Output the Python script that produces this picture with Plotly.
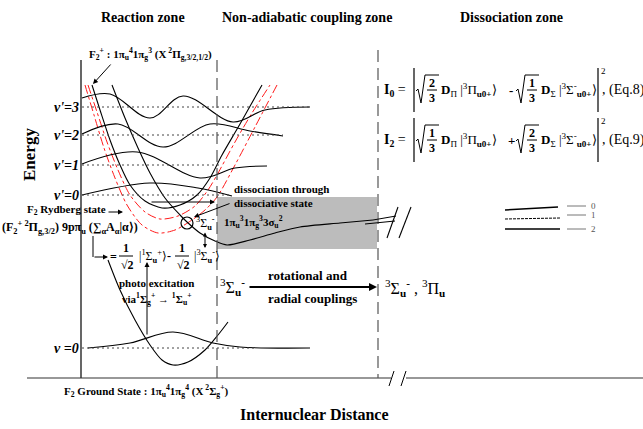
import plotly.graph_objects as go

W, H = 643, 429
SERIF = "Liberation Serif, Times New Roman, serif"

# ---------------- schematic data (R: internuclear distance, E: energy; drawing units) --------------
LEVEL_LABELS = ["v'=3", "v'=2", "v'=1", "v'=0", "v =0"]
LEVEL_E = [107, 135, 165, 195, 348]
LEVEL_R_END = [310, 283, 222, 232, 255]

# vibrational wavefunctions
WF3_R = [82, 110, 150, 183, 233, 265, 310]
WF3_E = [98, 94, 118, 96, 122, 110, 107]
WF2_R = [82, 118, 163, 210, 250, 283]
WF2_E = [134, 124, 147, 124, 131, 136]
WF1_R = [82, 137, 200, 235, 267]
WF1_E = [164, 152, 178, 168, 166]
WF0_R = [82, 150, 198, 232]
WF0_E = [195, 183, 188, 196]
WFG_R = [88, 130, 173, 213, 240, 310]
WFG_E = [348, 343, 332, 343, 347, 348]

# potential curves
ION_R = [92, 100, 110, 120, 130, 145, 162, 180, 197, 210, 222, 240, 262]
ION_E = [85, 110, 140, 165, 185, 201, 208, 205, 195, 178, 155, 124, 85]
RYD1_R = [88, 97, 107, 118, 130, 145, 160, 178, 195, 208, 217, 235, 252, 270]
RYD1_E = [85, 112, 142, 170, 195, 212, 219, 216, 206, 190, 175, 142, 113, 85]
RYD2_R = [85, 94, 104, 115, 127, 142, 158, 175, 192, 205, 217, 235, 255, 277]
RYD2_E = [85, 115, 148, 178, 205, 225, 233, 230, 220, 210, 197, 165, 127, 85]
GND_R = [108, 120, 135, 150, 162, 173, 188, 205, 218, 228]
GND_E = [260, 290, 320, 345, 360, 365, 362, 350, 335, 322]
DISS_R = [112, 125, 138, 150, 165, 180, 187, 200, 215, 227, 250, 275, 300, 340, 373]
DISS_E = [85, 118, 148, 173, 198, 215, 222, 233, 241, 245, 240, 233, 227, 223, 220]

LEG_LABELS = ["0", "1", "2"]

fig = go.Figure()


def curve(r, e, color="black", width=1.1, dash="solid", shape="spline", smooth=0.8):
    fig.add_trace(go.Scatter(x=r, y=e, mode="lines", hoverinfo="skip",
                             line=dict(color=color, width=width, dash=dash, shape=shape,
                                       smoothing=smooth)))


def line(x0, y0, x1, y1, color="black", width=1, dash="solid", layer="above"):
    fig.add_shape(type="line", x0=x0, y0=y0, x1=x1, y1=y1, layer=layer,
                  line=dict(color=color, width=width, dash=dash))


def txt(x, y, s, size=11, xanchor="center", color="black", angle=0):
    fig.add_annotation(x=x, y=y, text=s, showarrow=False, xanchor=xanchor, yanchor="middle",
                       textangle=angle, font=dict(family=SERIF, size=size, color=color))


def arrow(x0, y0, x1, y1, width=1, head=2, side="end", size=1.0):
    fig.add_annotation(x=x1, y=y1, ax=x0, ay=y0, axref="x", ayref="y", xref="x", yref="y",
                       text="", showarrow=True, arrowhead=head, arrowsize=size,
                       arrowwidth=width, arrowcolor="black", arrowside=side, startarrowhead=head,
                       startarrowsize=size)


def sqrt_frac(x, yc, num, den, size=12):
    path = (f"M {x},{yc+1} L {x+2},{yc-1} L {x+5},{yc+13} L {x+9},{yc-15} "
            f"L {x+23},{yc-15}")
    fig.add_shape(type="path", path=path, line=dict(color="black", width=1))
    line(x + 11, yc, x + 21, yc, width=1)
    txt(x + 16, yc - 7, f"<b>{num}</b>", size=size)
    txt(x + 16, yc + 8, f"<b>{den}</b>", size=size)


# gray dissociative region
fig.add_shape(type="rect", x0=217, x1=377, y0=197, y1=249, fillcolor="#bcbcbc",
              line=dict(width=0), layer="below")

# axes
line(81, 60, 81, 378, width=1.2)
line(27, 378, 391, 378, color="#333", width=1.2)
line(406, 378, 643, 378, color="#333", width=1.2)
line(389, 386, 394, 371, width=1)
line(401, 386, 406, 371, width=1)

# zone separators
line(217, 60, 217, 378, color="#555", width=1.2, dash="12px,6px")
line(378, 50, 378, 378, color="#555", width=1.2, dash="12px,6px")

# dotted vibrational levels
for e, rend in zip(LEVEL_E, LEVEL_R_END):
    line(82, e, rend, e, color="#444", width=1, dash="2px,3px")

# potentials
curve(RYD1_R, RYD1_E, color="#ff1a1a", width=1, dash="dashdot")
curve(RYD2_R, RYD2_E, color="#ff1a1a", width=1, dash="dashdot")
curve(ION_R, ION_E)
curve(GND_R, GND_E)
curve(DISS_R, DISS_E)

# wavefunctions
for r, e in [(WF3_R, WF3_E), (WF2_R, WF2_E), (WF1_R, WF1_E), (WF0_R, WF0_E), (WFG_R, WFG_E)]:
    curve(r, e, smooth=1.0)

# dissociative curve continuation to the break
line(373, 220, 396, 216, width=1)
line(365, 224, 395, 221, width=1)
line(387, 238, 398, 207, width=1.1)
line(399, 238, 411, 207, width=1.1)

# crossing marker
fig.add_shape(type="circle", x0=181, x1=193, y0=217, y1=229, line=dict(color="black", width=1.2))

# zone titles
txt(143, 17, "<b>Reaction zone</b>", size=14)
txt(307, 17, "<b>Non-adiabatic coupling zone</b>", size=14)
txt(511, 17, "<b>Dissociation zone</b>", size=14)

# axis titles
txt(29, 155, "<b>Energy</b>", size=17, angle=-90)
txt(314, 414, "<b>Internuclear Distance</b>", size=16)

# level labels
for lab, e in zip(LEVEL_LABELS, LEVEL_E):
    txt(81, e, f"<b><i>{lab}</i></b>", size=14, xanchor="right")

# ion label
txt(150, 54, "<b>F<sub>2</sub><sup>+</sup> : 1π<sub>u</sub><sup>4</sup>1π<sub>g</sub><sup>3</sup></b>"
              " <b>(X<sup> 2</sup>Π<sub>g,3/2,1/2</sub>)</b>", size=11)
arrow(112, 63, 93, 84)

# Rydberg state label
txt(66, 210, "<b>F<sub>2</sub> Rydberg state</b>", size=11)
arrow(107, 212, 123, 212)
txt(70, 227, "<b>(F<sub>2</sub><sup>+ 2</sup>Π<sub>g,3/2</sub>) 9pπ<sub>u</sub> (∑<sub>α</sub>A<sub>α</sub>|α⟩)</b>",
    size=12)
line(93, 236, 93, 257, width=1)
arrow(93, 257, 108, 257)
txt(113, 257, "<b>=</b>", size=12)
txt(126, 248, "<b>1</b>", size=12)
line(119, 256, 133, 256, width=1)
txt(127, 265, "<b>√2</b>", size=12)
txt(137, 256, "|<sup>1</sup>Σ<sub><b>u</b></sub><sup>+</sup>⟩<b>-</b>", size=12, xanchor="left")
txt(182, 248, "<b>1</b>", size=12)
line(175, 256, 189, 256, width=1)
txt(183, 265, "<b>√2</b>", size=12)
txt(192, 256, "|<sup>3</sup>Σ<sub><b>u</b></sub><sup>-</sup>⟩", size=12, xanchor="left")

# photo-excitation
arrow(147, 336, 147, 262)
txt(156, 283, "<b>photo excitation</b>", size=11)
txt(157, 299, "<b>via<sup>1</sup>Σ<sub>g</sub><sup>+</sup> → <sup>1</sup>Σ<sub>u</sub><sup>+</sup></b>", size=11)

# dissociation through dissociative state
arrow(150, 202, 215, 202)
txt(232, 189, "<b>dissociation through</b>", size=11, xanchor="left")
txt(232, 203, "<b>dissociative state</b>", size=11, xanchor="left")
arrow(231, 203, 194, 217)
txt(205, 223, "<sup>3</sup>Σ<sub><b>u</b></sub><sup><b>-</b></sup>", size=12)
txt(222, 222, "<b>1π<sub>u</sub><sup>3</sup>1π<sub>g</sub><sup>3</sup>3σ<sub>u</sub><sup>2</sup></b>", size=11,
    xanchor="left")
arrow(205, 231, 205, 248, side="end+start", size=0.8)

# couplings
txt(232, 287, "<sup>3</sup>Σ<sub><b>u</b></sub><sup><b>-</b></sup>", size=16)
arrow(248, 287, 377, 287, width=2, size=0.8)
txt(308, 275, "<b>rotational and</b>", size=13)
txt(312, 298, "<b>radial couplings</b>", size=13)
txt(383, 288, "<sup>3</sup>Σ<sub><b>u</b></sub><sup><b>-</b></sup> , <sup>3</sup>Π<sub><b>u</b></sub>", size=16,
    xanchor="left")

# ground state label
txt(146, 391, "<b>F<sub>2</sub> Ground State : 1π<sub>u</sub><sup>4</sup>1π<sub>g</sub><sup>4</sup> (X<sup> 2</sup>Σ<sub>g</sub><sup>+</sup>)</b>",
    size=11)

# equations
for yc, lab, f1, f2, sg, eq in [(90, "0", ("2", "3"), ("1", "3"), "-", "8"),
                                 (140, "2", ("1", "3"), ("2", "3"), "+", "9")]:
    txt(382, yc, f"<b>I<sub>{lab}</sub></b> =", size=14, xanchor="left")
    line(414, yc - 22, 414, yc + 22, width=1.2)
    sqrt_frac(416, yc, *f1)
    txt(439, yc, "<b>D</b><sub>Π</sub> |<sup>3</sup>Π<sub><b>u0+</b></sub>⟩", size=13, xanchor="left")
    txt(511, yc, f"<b>{sg}</b>", size=13)
    sqrt_frac(516, yc, *f2)
    txt(539, yc, "<b>D</b><sub>Σ</sub> |<sup>3</sup>Σ<sup>-</sup><sub><b>u0+</b></sub>⟩", size=13, xanchor="left")
    line(598, yc - 22, 598, yc + 22, width=1.2)
    txt(603, yc - 19, "2", size=9)
    txt(600, yc, f", (Eq.{eq})", size=14, xanchor="left")

# legend of channels
line(505, 210, 558, 207, width=1.5)
line(505, 219, 560, 218, width=1, dash="3px,1px")
line(505, 229, 560, 229, width=1.5)
for yy, lab in zip([206, 215, 229], LEG_LABELS):
    line(567, yy, 586, yy, color="#777", width=1)
    txt(589, yy, lab, size=9, color="#555", xanchor="left")

fig.update_layout(
    width=W, height=H, margin=dict(l=0, r=0, t=0, b=0),
    paper_bgcolor="white", plot_bgcolor="white", showlegend=False,
    xaxis=dict(range=[0, W], visible=False, fixedrange=True),
    yaxis=dict(range=[H, 0], visible=False, fixedrange=True),
)
fig.write_html("out.html", config={"displayModeBar": False},
               post_script="document.body.style.margin='0';document.body.style.overflow='hidden';")
